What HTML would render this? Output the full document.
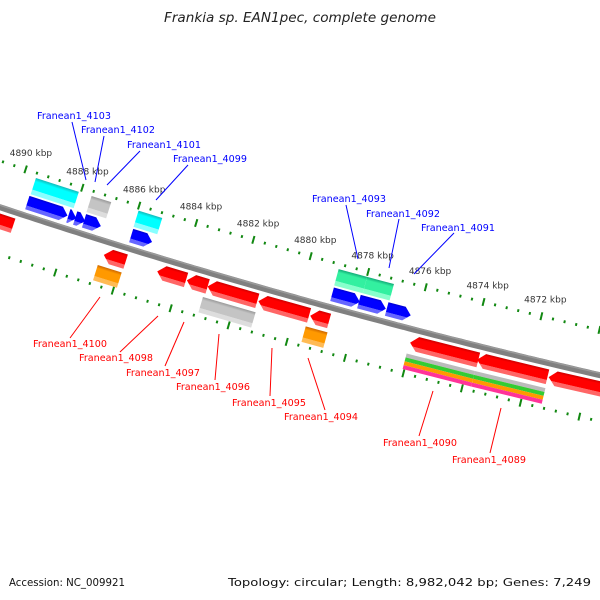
<!DOCTYPE html>
<html><head><meta charset="utf-8"><style>
html,body{margin:0;padding:0;background:#fff;}
svg{display:block;}
</style></head><body>
<svg id="chart" width="600" height="600" viewBox="0 0 600 600" xmlns="http://www.w3.org/2000/svg">
<defs>
<linearGradient id="gBlue" x1="0" y1="0" x2="0" y2="1"><stop offset="0" stop-color="#0000cc"/><stop offset="0.15" stop-color="#0000ff"/><stop offset="0.7" stop-color="#0000ff"/><stop offset="0.72" stop-color="#6666ff"/><stop offset="1" stop-color="#6666ff"/></linearGradient>
<linearGradient id="gRed" x1="0" y1="0" x2="0" y2="1"><stop offset="0" stop-color="#cc0000"/><stop offset="0.18" stop-color="#ff0000"/><stop offset="0.7" stop-color="#ff0000"/><stop offset="0.72" stop-color="#ff6666"/><stop offset="1" stop-color="#ff6666"/></linearGradient>
<linearGradient id="gCyan" x1="0" y1="0" x2="0" y2="1"><stop offset="0" stop-color="#11bbbb"/><stop offset="0.2" stop-color="#00ffff"/><stop offset="0.7" stop-color="#00ffff"/><stop offset="0.72" stop-color="#88ffff"/><stop offset="1" stop-color="#88ffff"/></linearGradient>
<linearGradient id="gGrey" x1="0" y1="0" x2="0" y2="1"><stop offset="0" stop-color="#999999"/><stop offset="0.2" stop-color="#c4c4c4"/><stop offset="0.7" stop-color="#c4c4c4"/><stop offset="0.72" stop-color="#dddddd"/><stop offset="1" stop-color="#dddddd"/></linearGradient>
<linearGradient id="gOrange" x1="0" y1="0" x2="0" y2="1"><stop offset="0" stop-color="#cc6600"/><stop offset="0.2" stop-color="#ff9900"/><stop offset="0.7" stop-color="#ff9900"/><stop offset="0.72" stop-color="#ffbb55"/><stop offset="1" stop-color="#ffbb55"/></linearGradient>
<linearGradient id="gTeal" x1="0" y1="0" x2="0" y2="1"><stop offset="0" stop-color="#11aa77"/><stop offset="0.2" stop-color="#33f0a0"/><stop offset="0.7" stop-color="#33f0a0"/><stop offset="0.72" stop-color="#88ffcc"/><stop offset="1" stop-color="#88ffcc"/></linearGradient>
</defs>
<text x="300" y="22" text-anchor="middle" font-family="DejaVu Sans, sans-serif" font-style="italic" font-size="13" fill="#222" textLength="272" lengthAdjust="spacingAndGlyphs">Frankia sp. EAN1pec, complete genome</text>
<g id="map"></g>
<g id="labels" font-family="DejaVu Sans, sans-serif" font-size="10">
<g fill="#0000ff" stroke="none">
<text x="37" y="119" textLength="74" lengthAdjust="spacingAndGlyphs">Franean1_4103</text>
<text x="81" y="133" textLength="74" lengthAdjust="spacingAndGlyphs">Franean1_4102</text>
<text x="127" y="148" textLength="74" lengthAdjust="spacingAndGlyphs">Franean1_4101</text>
<text x="173" y="162" textLength="74" lengthAdjust="spacingAndGlyphs">Franean1_4099</text>
<text x="312" y="202" textLength="74" lengthAdjust="spacingAndGlyphs">Franean1_4093</text>
<text x="366" y="217" textLength="74" lengthAdjust="spacingAndGlyphs">Franean1_4092</text>
<text x="421" y="231" textLength="74" lengthAdjust="spacingAndGlyphs">Franean1_4091</text>
</g>
<g stroke="#0000ff" stroke-width="1">
<line x1="72" y1="122" x2="86" y2="180"/>
<line x1="104" y1="136" x2="95" y2="182"/>
<line x1="140" y1="151" x2="107" y2="185"/>
<line x1="188" y1="165" x2="156" y2="200"/>
<line x1="346" y1="205" x2="358" y2="259"/>
<line x1="399" y1="219" x2="389" y2="268"/>
<line x1="454" y1="233" x2="414" y2="274"/>
</g>
<g fill="#ff0000" stroke="none">
<text x="33" y="347" textLength="74" lengthAdjust="spacingAndGlyphs">Franean1_4100</text>
<text x="79" y="361" textLength="74" lengthAdjust="spacingAndGlyphs">Franean1_4098</text>
<text x="126" y="376" textLength="74" lengthAdjust="spacingAndGlyphs">Franean1_4097</text>
<text x="176" y="390" textLength="74" lengthAdjust="spacingAndGlyphs">Franean1_4096</text>
<text x="232" y="406" textLength="74" lengthAdjust="spacingAndGlyphs">Franean1_4095</text>
<text x="284" y="420" textLength="74" lengthAdjust="spacingAndGlyphs">Franean1_4094</text>
<text x="383" y="446" textLength="74" lengthAdjust="spacingAndGlyphs">Franean1_4090</text>
<text x="452" y="463" textLength="74" lengthAdjust="spacingAndGlyphs">Franean1_4089</text>
</g>
<g stroke="#ff0000" stroke-width="1">
<line x1="100" y1="297" x2="70" y2="338"/>
<line x1="158" y1="316" x2="120" y2="352"/>
<line x1="184" y1="322" x2="165" y2="366"/>
<line x1="219" y1="334" x2="215" y2="380"/>
<line x1="272" y1="348" x2="270" y2="396"/>
<line x1="308" y1="358" x2="325" y2="410"/>
<line x1="433" y1="391" x2="419" y2="436"/>
<line x1="501" y1="408" x2="490" y2="453"/>
</g>
</g>
<text x="9" y="586" font-family="DejaVu Sans, sans-serif" font-size="11" fill="#111" textLength="116" lengthAdjust="spacingAndGlyphs">Accession: NC_009921</text>
<text x="591" y="586" text-anchor="end" font-family="DejaVu Sans, sans-serif" font-size="11" fill="#111" textLength="363" lengthAdjust="spacingAndGlyphs">Topology: circular; Length: 8,982,042 bp; Genes: 7,249</text>
</svg>
<script>
// ---- data (kbp positions) ----
const tickLabelsKbp = [4890, 4888, 4886, 4884, 4882, 4880, 4878, 4876, 4874, 4872];
const blueStart = [4889.60, 4888.16, 4887.92, 4887.61, 4885.96, 4878.97, 4878.04, 4877.08];
const blueEnd   = [4888.19, 4887.88, 4887.57, 4887.02, 4885.23, 4878.01, 4877.11, 4876.25];
const otherUpStart = [4889.58, 4887.62, 4885.97, 4878.98, 4877.99];
const otherUpEnd   = [4888.07, 4886.93, 4885.14, 4877.99, 4877.06];
const otherUpType  = ['cyan', 'grey', 'cyan', 'teal', 'teal'];
const redStart = [4892.00, 4886.64, 4884.78, 4883.75, 4883.03, 4881.27, 4879.48, 4876.04, 4873.74, 4871.29];
const redEnd   = [4889.81, 4885.88, 4883.78, 4883.03, 4881.31, 4879.52, 4878.83, 4873.70, 4871.33, 4867.80];
const otherLowStart = [4886.73, 4883.08, 4879.53];
const otherLowEnd   = [4885.90, 4881.26, 4878.78];
const otherLowType  = ['orange', 'grey', 'orange'];
const stripeStart = [4876.06, 4873.72];
const stripeEnd   = [4873.72, 4871.31];
const stripeColors = ['#bbbbbb', '#33cc33', '#ff9900', '#ff3399'];

// ---- axis / geometry ----
const CX = 2080, CY = -6068, R0 = 6611;
const K0 = 4888, PHI0 = -17.71, DEG_PER_KBP = 0.26;
function phi(k){ return (PHI0 + (K0 - k) * DEG_PER_KBP) * Math.PI / 180; }
function pt(r, k){ const p = phi(k); return [CX + r * Math.sin(p), CY + r * Math.cos(p)]; }
const NS = 'http://www.w3.org/2000/svg';
const map = document.getElementById('map');
function mk(tag, attrs, parent){
  const e = document.createElementNS(NS, tag);
  for (const a in attrs) e.setAttribute(a, attrs[a]);
  (parent || map).appendChild(e);
  return e;
}
const gradOf = {blue:'url(#gBlue)', red:'url(#gRed)', cyan:'url(#gCyan)', grey:'url(#gGrey)', orange:'url(#gOrange)', teal:'url(#gTeal)'};

// backbone
(function(){
  let pts = [];
  for (let i = 0; i <= 200; i++) { const k = 4896 - i * 0.18; const p = pt(R0, k); pts.push(p[0].toFixed(1) + ',' + p[1].toFixed(1)); }
  const bb = mk('polyline', {points: pts.join(' '), fill: 'none', stroke: '#808080', 'stroke-width': 6});
  
  
  let pts2 = [];
  for (let i = 0; i <= 200; i++) { const k = 4896 - i * 0.18; const p = pt(R0 - 2, k); pts2.push(p[0].toFixed(1) + ',' + p[1].toFixed(1)); }
  const hl = mk('polyline', {points: pts2.join(' '), fill: 'none', stroke: '#9a9a9a', 'stroke-width': 1.5});
  
  
})();

// tick tracks
[6567, 6656].forEach(function(r, ti){
  for (let i = 0; i <= 90; i++) {
    const k10 = 48960 - i * 4;
    const k = k10 / 10;
    const major = (k10 % 20 === 0);
    const a = major ? 4 : 1.4;
    const p1 = pt(r - a, k), p2 = pt(r + a, k);
    const t = mk('line', {x1: p1[0], y1: p1[1], x2: p2[0], y2: p2[1], stroke: '#118811', 'stroke-width': 2});
    
    
  }
});
tickLabelsKbp.forEach(function(k){
  const p = pt(6550, k);
  const t = mk('text', {x: p[0], y: p[1] + 3, 'text-anchor': 'middle', 'font-family': 'DejaVu Sans, sans-serif', 'font-size': 9, fill: '#333'});
  t.textContent = k + ' kbp';
  
  
});

// feature drawing
function feature(k1, k2, rin, rout, dir, fill, name){
  const rm = (rin + rout) / 2, h = rout - rin;
  const p1 = phi(k1), p2 = phi(k2);
  const L = rm * (p2 - p1);
  const o = pt(rm, k1);
  const ang = -(p1 + p2) / 2 * 180 / Math.PI;
  const g = mk('g', {transform: 'translate(' + o[0].toFixed(2) + ',' + o[1].toFixed(2) + ') rotate(' + ang.toFixed(3) + ')'});
  
  
  const y0 = -h / 2, y1 = h / 2;
  let d;
  const hd = Math.min(h * 0.5, L);
  if (dir === 0) {
    d = 'M0,' + y0 + 'H' + L + 'V' + y1 + 'H0Z';
  } else if (dir > 0) {
    d = 'M0,' + y0 + 'H' + (L - hd) + 'L' + L + ',0L' + (L - hd) + ',' + y1 + 'H0Z';
  } else {
    d = 'M' + L + ',' + y0 + 'H' + hd + 'L0,0L' + hd + ',' + y1 + 'H' + L + 'Z';
  }
  mk('path', {d: d, fill: fill}, g);
  return g;
}
blueStart.forEach(function(s, i){ feature(s, blueEnd[i], 6591, 6605, 1, gradOf.blue, 'forward-gene-' + i); });
otherUpStart.forEach(function(s, i){ feature(s, otherUpEnd[i], 6572, 6589, 0, gradOf[otherUpType[i]], 'forward-feature-' + otherUpType[i] + '-' + i); });
redStart.forEach(function(s, i){ feature(s, redEnd[i], 6617, 6632, -1, gradOf.red, 'reverse-gene-' + i); });
otherLowStart.forEach(function(s, i){ feature(s, otherLowEnd[i], 6636, 6652, 0, gradOf[otherLowType[i]], 'reverse-feature-' + otherLowType[i] + '-' + i); });
stripeStart.forEach(function(s, i){
  stripeColors.forEach(function(c, j){
    const r0 = 6636 + j * 4;
    feature(s, stripeEnd[i], r0, r0 + 4, 0, c, 'reverse-stripe-' + i + '-' + j);
  });
});
</script>
</body></html>
